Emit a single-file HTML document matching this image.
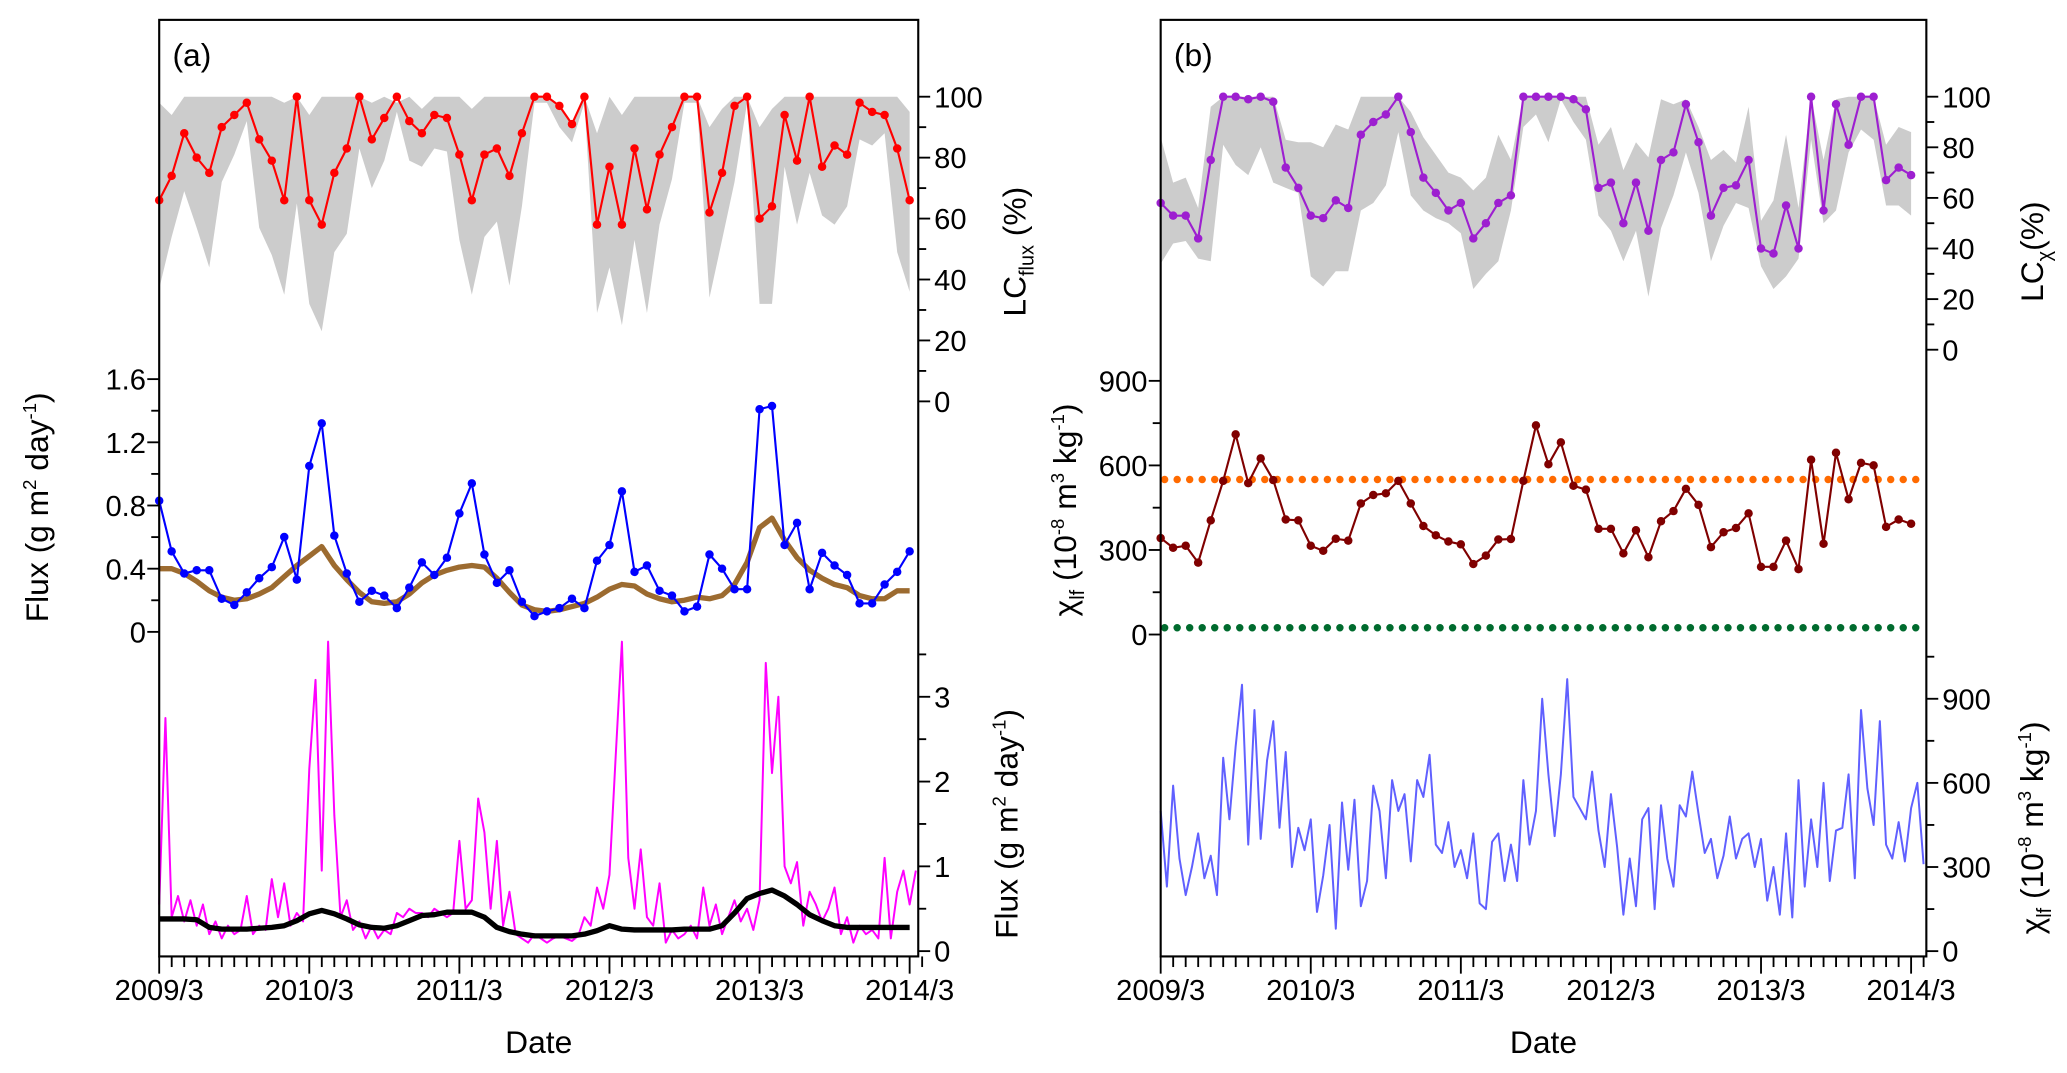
<!DOCTYPE html>
<html><head><meta charset="utf-8"><style>
html,body{margin:0;padding:0;background:#fff;}
svg{display:block;}
text{font-family:"Liberation Sans",Arial,sans-serif;fill:#000;}
</style></head><body>
<svg id="chart" xmlns="http://www.w3.org/2000/svg" width="2067" height="1073" viewBox="0 0 1560 810"></svg>
<script>
// ---------- DATA ----------
const yearLabels = ["2009/3","2010/3","2011/3","2012/3","2013/3","2014/3"];
const lcFluxTicks = [0,20,40,60,80,100];
const fluxMidTicks = ["0","0.4","0.8","1.2","1.6"];
const fluxMidTickVals = [0,0.4,0.8,1.2,1.6];
const fluxBotTicks = [0,1,2,3];
const chiTicks = [0,300,600,900];
const lcChiTicks = [0,20,40,60,80,100];

const lcFlux = [66,74,88,80,75,90,94,98,86,79,66,100,66,58,75,83,100,86,93,100,92,88,94,93,81,66,81,83,74,88,100,100,97,91,100,58,77,58,83,63,81,90,100,100,62,75,97,100,60,64,94,79,100,77,84,81,98,95,94,83,66];
const lcFluxUpper = [98,94,100,100,100,100,100,100,100,100,98,100,94,100,100,100,100,98,100,98,100,96,100,100,100,96,100,100,100,100,100,100,97,91,100,88,100,94,100,100,100,100,100,100,90,96,100,100,90,96,100,100,100,100,100,100,100,100,100,100,95];
const lcFluxLower = [37,54,69,57,44,72,81,92,57,48,35,65,32,23,49,55,83,70,79,95,79,77,83,82,53,35,54,59,38,64,98,98,90,85,98,29,44,25,53,29,58,73,98,98,34,53,72,98,32,32,77,58,75,61,58,64,86,84,88,49,36];
const fluxMonthly = [0.83,0.51,0.37,0.39,0.39,0.21,0.17,0.25,0.34,0.41,0.60,0.33,1.05,1.32,0.61,0.37,0.19,0.26,0.23,0.15,0.28,0.44,0.36,0.47,0.75,0.94,0.49,0.31,0.39,0.19,0.10,0.13,0.15,0.21,0.15,0.45,0.55,0.89,0.38,0.42,0.26,0.23,0.13,0.16,0.49,0.40,0.27,0.27,1.41,1.43,0.55,0.69,0.27,0.50,0.42,0.36,0.18,0.18,0.30,0.38,0.51];
const fluxSmooth = [0.40,0.40,0.37,0.32,0.26,0.22,0.20,0.21,0.24,0.28,0.35,0.42,0.48,0.54,0.42,0.33,0.25,0.19,0.18,0.19,0.24,0.31,0.36,0.39,0.41,0.42,0.41,0.34,0.25,0.17,0.14,0.13,0.14,0.16,0.18,0.22,0.27,0.30,0.29,0.24,0.21,0.19,0.20,0.22,0.21,0.23,0.30,0.44,0.66,0.72,0.58,0.47,0.39,0.34,0.30,0.28,0.23,0.21,0.21,0.26,0.26];
const fluxDaily = [0.55,2.75,0.40,0.65,0.35,0.60,0.30,0.55,0.20,0.35,0.15,0.30,0.20,0.25,0.65,0.20,0.30,0.25,0.85,0.40,0.80,0.30,0.45,0.35,
 2.15,3.20,0.95,3.65,1.60,0.40,0.60,0.25,0.35,0.15,0.30,0.15,0.25,0.20,0.45,0.40,0.50,0.45,0.45,0.40,0.50,0.45,0.40,0.45,
 1.30,0.50,0.60,1.80,1.40,0.50,1.30,0.30,0.70,0.20,0.15,0.10,0.20,0.15,0.10,0.15,0.18,0.15,0.12,0.18,0.40,0.30,0.75,0.50,
 0.90,2.30,3.65,1.10,0.50,1.20,0.40,0.30,0.80,0.10,0.25,0.15,0.20,0.30,0.15,0.75,0.30,0.55,0.20,0.40,0.60,0.35,0.50,0.25,
 0.60,3.40,2.10,3.00,1.00,0.80,1.05,0.30,0.70,0.55,0.35,0.50,0.75,0.20,0.40,0.10,0.30,0.20,0.25,0.15,1.10,0.15,0.70,0.95,0.55,0.95];
const fluxDailySmooth = [0.38,0.38,0.38,0.37,0.28,0.26,0.26,0.26,0.27,0.28,0.30,0.36,0.44,0.48,0.44,0.38,0.31,0.28,0.27,0.30,0.36,0.42,0.43,0.46,0.46,0.46,0.40,0.28,0.23,0.20,0.18,0.18,0.18,0.18,0.20,0.24,0.30,0.26,0.25,0.25,0.25,0.25,0.26,0.26,0.26,0.30,0.45,0.62,0.68,0.72,0.65,0.55,0.43,0.36,0.30,0.28,0.28,0.28,0.28,0.28,0.28];

const lcChi = [58,53,53,44,75,100,100,99,100,98,72,64,53,52,59,56,85,90,93,100,86,68,62,55,58,44,50,58,61,100,100,100,100,99,95,64,66,50,66,47,75,78,97,82,53,64,65,75,40,38,57,40,100,55,97,81,100,100,67,72,69];
const lcChiUpper = [84,66,68,56,96,100,100,100,100,100,83,82,82,80,89,87,100,100,100,100,94,84,77,70,68,63,68,85,75,100,100,100,100,100,100,81,88,71,82,76,99,97,99,88,75,79,74,96,51,59,85,56,100,75,99,100,100,100,81,88,86];
const lcChiLower = [34,42,43,36,35,81,73,69,80,66,64,62,29,25,31,31,55,58,65,86,61,55,52,50,46,24,30,35,55,88,93,82,99,90,83,53,47,35,47,21,48,61,78,62,35,49,58,56,33,24,29,36,83,50,55,78,87,83,57,57,53];
const chiMonthly = [342,308,315,255,405,545,710,537,625,548,408,405,315,297,340,333,465,495,501,545,465,385,352,330,320,250,280,337,339,545,742,604,682,528,514,375,375,288,370,274,402,438,517,460,310,363,378,430,240,240,333,232,620,322,645,480,609,600,382,408,393];
const chiOrangeLevel = [550];
const chiGreenLevel = [24];
const chiWeekly = [500,230,590,330,200,300,420,260,340,200,690,470,730,950,380,860,400,680,820,440,710,300,440,360,
 470,140,270,450,80,530,290,540,160,250,590,500,260,610,500,560,320,610,550,700,380,350,460,300,
 360,260,420,170,150,390,420,250,380,250,610,380,500,900,630,410,630,970,550,510,470,640,430,300,
 560,370,130,330,160,470,510,150,520,330,230,520,480,640,490,350,400,260,340,480,330,400,420,300,
 400,180,300,130,420,120,610,230,470,300,600,250,430,440,630,260,860,580,450,820,380,330,460,320,510,600,310];

// ---------- GEOMETRY ----------
const NS = "http://www.w3.org/2000/svg";
const svg = document.getElementById("chart");
const MPX = 113.3/12; // px per month
const PA = {x0:120, x1:693, top:15, bottom:722};
const PB = {x0:876, x1:1454, top:15, bottom:722};
function xA(m){return PA.x0 + m*MPX;}
function xB(m){return PB.x0 + m*MPX;}
function yLCa(v){return 303 - v*2.3;}
function yFluxMid(v){return 477 - v*(47.7/0.4);}
function yFluxBot(v){return 718 - v*64;}
function yLCb(v){return 264 - v*1.91;}
function yChiMid(v){return 479 - v*(191.5/900);}
function yChiBot(v){return 718 - v*(190.5/900);}

function el(tag, attrs, parent){
  const e = document.createElementNS(NS, tag);
  for (const k in attrs) e.setAttribute(k, attrs[k]);
  (parent||svg).appendChild(e);
  return e;
}
function txt(s, x, y, size, anchor, parent, rot){
  const t = el("text", {x:x, y:y, "font-size":size, "text-anchor":anchor||"middle"}, parent);
  if (rot) t.setAttribute("transform", "rotate("+rot+" "+x+" "+y+")");
  t.textContent = s;
  return t;
}
function group(name){
  const g = el("g", {});
  
  
  return g;
}
function polyline(xs, ys, color, w, g){
  let d = "";
  for (let i=0;i<xs.length;i++) d += (i?"L":"M") + xs[i].toFixed(1) + " " + ys[i].toFixed(1);
  return el("path", {d:d, fill:"none", stroke:color, "stroke-width":w, "stroke-linejoin":"round"}, g);
}
function band(xs, up, lo, g){
  let d = "";
  for (let i=0;i<xs.length;i++) d += (i?"L":"M") + xs[i].toFixed(1) + " " + up[i].toFixed(1);
  for (let i=xs.length-1;i>=0;i--) d += "L" + xs[i].toFixed(1) + " " + lo[i].toFixed(1);
  return el("path", {d:d+"Z", fill:"#cccccc", stroke:"none"}, g);
}
function markers(xs, ys, color, r, g){
  for (let i=0;i<xs.length;i++){
    const c = el("circle", {cx:xs[i].toFixed(1), cy:ys[i].toFixed(1), r:r, fill:color}, g);
    
    
  }
}

// ---------- PANEL A ----------
(function(){
  const g = group("panel-a");
  // LC flux band + line
  const gl = group("lc-flux-series");
  const xs = lcFlux.map((v,i)=>xA(i));
  band(xs, lcFluxUpper.map(yLCa), lcFluxLower.map(yLCa), gl);
  polyline(xs, lcFlux.map(yLCa), "#ff0000", 1.6, gl);
  markers(xs, lcFlux.map(yLCa), "#ff0000", 3.2, gl);
  // monthly flux
  const gm = group("monthly-flux-series");
  polyline(fluxSmooth.map((v,i)=>xA(i)), fluxSmooth.map(yFluxMid), "#9c6b30", 4, gm);
  polyline(fluxMonthly.map((v,i)=>xA(i)), fluxMonthly.map(yFluxMid), "#0000ff", 1.6, gm);
  markers(fluxMonthly.map((v,i)=>xA(i)), fluxMonthly.map(yFluxMid), "#0000ff", 3.2, gm);
  // daily flux
  const gd = group("daily-flux-series");
  polyline(fluxDaily.map((v,i)=>xA(i*0.5)), fluxDaily.map(yFluxBot), "#ff00ff", 1.5, gd);
  polyline(fluxDailySmooth.map((v,i)=>xA(i)), fluxDailySmooth.map(yFluxBot), "#000000", 4, gd);

  // frame
  const f = group("panel-a-frame");
  el("rect", {x:PA.x0, y:PA.top, width:PA.x1-PA.x0, height:PA.bottom-PA.top, fill:"none", stroke:"#000", "stroke-width":1.6}, f);
  txt("(a)", 130, 50, 24, "start", f);

  // x axis
  const xa = group("panel-a-x-axis");
  for (let m=0;m<=61;m++){
    const x = xA(m), major = m%12===0;
    el("line", {x1:x, y1:PA.bottom, x2:x, y2:PA.bottom+(major?13:8), stroke:"#000", "stroke-width":1.4}, xa);
  }
  yearLabels.forEach((s,i)=>txt(s, xA(i*12), 755, 22, "middle", xa));
  txt("Date", (PA.x0+PA.x1)/2, 795, 24, "middle", xa);

  // LC flux right axis
  const ra = group("lc-flux-axis");
  for (let v=0; v<=100; v+=10){
    el("line", {x1:PA.x1, y1:yLCa(v), x2:PA.x1+(v%20===0?9:6), y2:yLCa(v), stroke:"#000", "stroke-width":1.4}, ra);
  }
  lcFluxTicks.forEach(v=>txt(String(v), PA.x1+12, yLCa(v)+8, 22, "start", ra));
  const t1 = el("text", {x:774, y:190, "font-size":24, "text-anchor":"middle", transform:"rotate(-90 774 190)"}, ra);
  t1.innerHTML = 'LC<tspan font-size="15" dy="6">flux</tspan><tspan dy="-6"> (%)</tspan>';
  

  // flux middle left axis
  const la = group("flux-monthly-axis");
  for (let v=0; v<=1.6001; v+=0.2){
    el("line", {x1:PA.x0, y1:yFluxMid(v), x2:PA.x0-(Math.round(v*10)%4===0?9:6), y2:yFluxMid(v), stroke:"#000", "stroke-width":1.4}, la);
  }
  fluxMidTicks.forEach((s,i)=>txt(s, 110, yFluxMid(fluxMidTickVals[i])+8, 22, "end", la));
  const t2 = el("text", {x:36, y:383, "font-size":24, "text-anchor":"middle", transform:"rotate(-90 36 383)"}, la);
  t2.innerHTML = 'Flux (g m<tspan font-size="14" dy="-9">2</tspan><tspan dy="9"> day</tspan><tspan font-size="14" dy="-9">-1</tspan><tspan dy="9">)</tspan>';
  

  // flux bottom right axis
  const ba = group("flux-daily-axis");
  for (let v=0; v<=3.5; v+=0.5){
    el("line", {x1:PA.x1, y1:yFluxBot(v), x2:PA.x1+(v%1===0?9:6), y2:yFluxBot(v), stroke:"#000", "stroke-width":1.4}, ba);
  }
  fluxBotTicks.forEach(v=>txt(String(v), PA.x1+12, yFluxBot(v)+8, 22, "start", ba));
  const t3 = el("text", {x:768, y:622, "font-size":24, "text-anchor":"middle", transform:"rotate(-90 768 622)"}, ba);
  t3.innerHTML = 'Flux (g m<tspan font-size="14" dy="-9">2</tspan><tspan dy="9"> day</tspan><tspan font-size="14" dy="-9">-1</tspan><tspan dy="9">)</tspan>';
  
})();

// ---------- PANEL B ----------
(function(){
  const gl = group("lc-chi-series");
  const xs = lcChi.map((v,i)=>xB(i));
  band(xs, lcChiUpper.map(yLCb), lcChiLower.map(yLCb), gl);
  polyline(xs, lcChi.map(yLCb), "#9d1fd0", 1.6, gl);
  markers(xs, lcChi.map(yLCb), "#9d1fd0", 3.2, gl);

  const gr = group("reference-levels");
  for (let i=0;i<=60;i++){
    const x = PB.x0 + 3 + i*9.45;
    const c1 = el("circle", {cx:x, cy:yChiMid(chiOrangeLevel[0]), r:2.8, fill:"#ff6a00"}, gr);
    
    
    const c2 = el("circle", {cx:x, cy:yChiMid(chiGreenLevel[0]), r:2.8, fill:"#006b2e"}, gr);
    
    
  }

  const gm = group("chi-monthly-series");
  polyline(chiMonthly.map((v,i)=>xB(i)), chiMonthly.map(yChiMid), "#800000", 1.6, gm);
  markers(chiMonthly.map((v,i)=>xB(i)), chiMonthly.map(yChiMid), "#800000", 3.2, gm);

  const gw = group("chi-weekly-series");
  polyline(chiWeekly.map((v,i)=>xB(i*0.5)), chiWeekly.map(yChiBot), "#6060ff", 1.5, gw);

  const f = group("panel-b-frame");
  el("rect", {x:PB.x0, y:PB.top, width:PB.x1-PB.x0, height:PB.bottom-PB.top, fill:"none", stroke:"#000", "stroke-width":1.6}, f);
  txt("(b)", 886, 50, 24, "start", f);

  const xa = group("panel-b-x-axis");
  for (let m=0;m<=61;m++){
    const x = xB(m), major = m%12===0;
    el("line", {x1:x, y1:PB.bottom, x2:x, y2:PB.bottom+(major?13:8), stroke:"#000", "stroke-width":1.4}, xa);
  }
  yearLabels.forEach((s,i)=>txt(s, xB(i*12), 755, 22, "middle", xa));
  txt("Date", (PB.x0+PB.x1)/2, 795, 24, "middle", xa);

  const ra = group("lc-chi-axis");
  for (let v=0; v<=100; v+=10){
    el("line", {x1:PB.x1, y1:yLCb(v), x2:PB.x1+(v%20===0?9:6), y2:yLCb(v), stroke:"#000", "stroke-width":1.4}, ra);
  }
  lcChiTicks.forEach(v=>txt(String(v), PB.x1+12, yLCb(v)+8, 22, "start", ra));
  const t1 = el("text", {x:1542, y:190, "font-size":24, "text-anchor":"middle", transform:"rotate(-90 1542 190)"}, ra);
  t1.innerHTML = 'LC<tspan font-size="15" dy="6">χ</tspan><tspan dy="-6">(%)</tspan>';
  

  const la = group("chi-monthly-axis");
  for (let v=0; v<=900; v+=150){
    el("line", {x1:PB.x0, y1:yChiMid(v), x2:PB.x0-(v%300===0?9:6), y2:yChiMid(v), stroke:"#000", "stroke-width":1.4}, la);
  }
  chiTicks.forEach(v=>txt(String(v), 866, yChiMid(v)+8, 22, "end", la));
  const t2 = el("text", {x:812, y:385, "font-size":24, "text-anchor":"middle", transform:"rotate(-90 812 385)"}, la);
  t2.innerHTML = 'χ<tspan font-size="15" dy="6">lf</tspan><tspan dy="-6"> (10</tspan><tspan font-size="14" dy="-9">-8</tspan><tspan dy="9"> m</tspan><tspan font-size="14" dy="-9">3</tspan><tspan dy="9"> kg</tspan><tspan font-size="14" dy="-9">-1</tspan><tspan dy="9">)</tspan>';
  

  const ba = group("chi-weekly-axis");
  for (let v=0; v<=1050; v+=150){
    el("line", {x1:PB.x1, y1:yChiBot(v), x2:PB.x1+(v%300===0?9:6), y2:yChiBot(v), stroke:"#000", "stroke-width":1.4}, ba);
  }
  chiTicks.forEach(v=>txt(String(v), PB.x1+12, yChiBot(v)+8, 22, "start", ba));
  const t3 = el("text", {x:1542, y:625, "font-size":24, "text-anchor":"middle", transform:"rotate(-90 1542 625)"}, ba);
  t3.innerHTML = 'χ<tspan font-size="15" dy="6">lf</tspan><tspan dy="-6"> (10</tspan><tspan font-size="14" dy="-9">-8</tspan><tspan dy="9"> m</tspan><tspan font-size="14" dy="-9">3</tspan><tspan dy="9"> kg</tspan><tspan font-size="14" dy="-9">-1</tspan><tspan dy="9">)</tspan>';
  
})();
</script>
</body></html>
